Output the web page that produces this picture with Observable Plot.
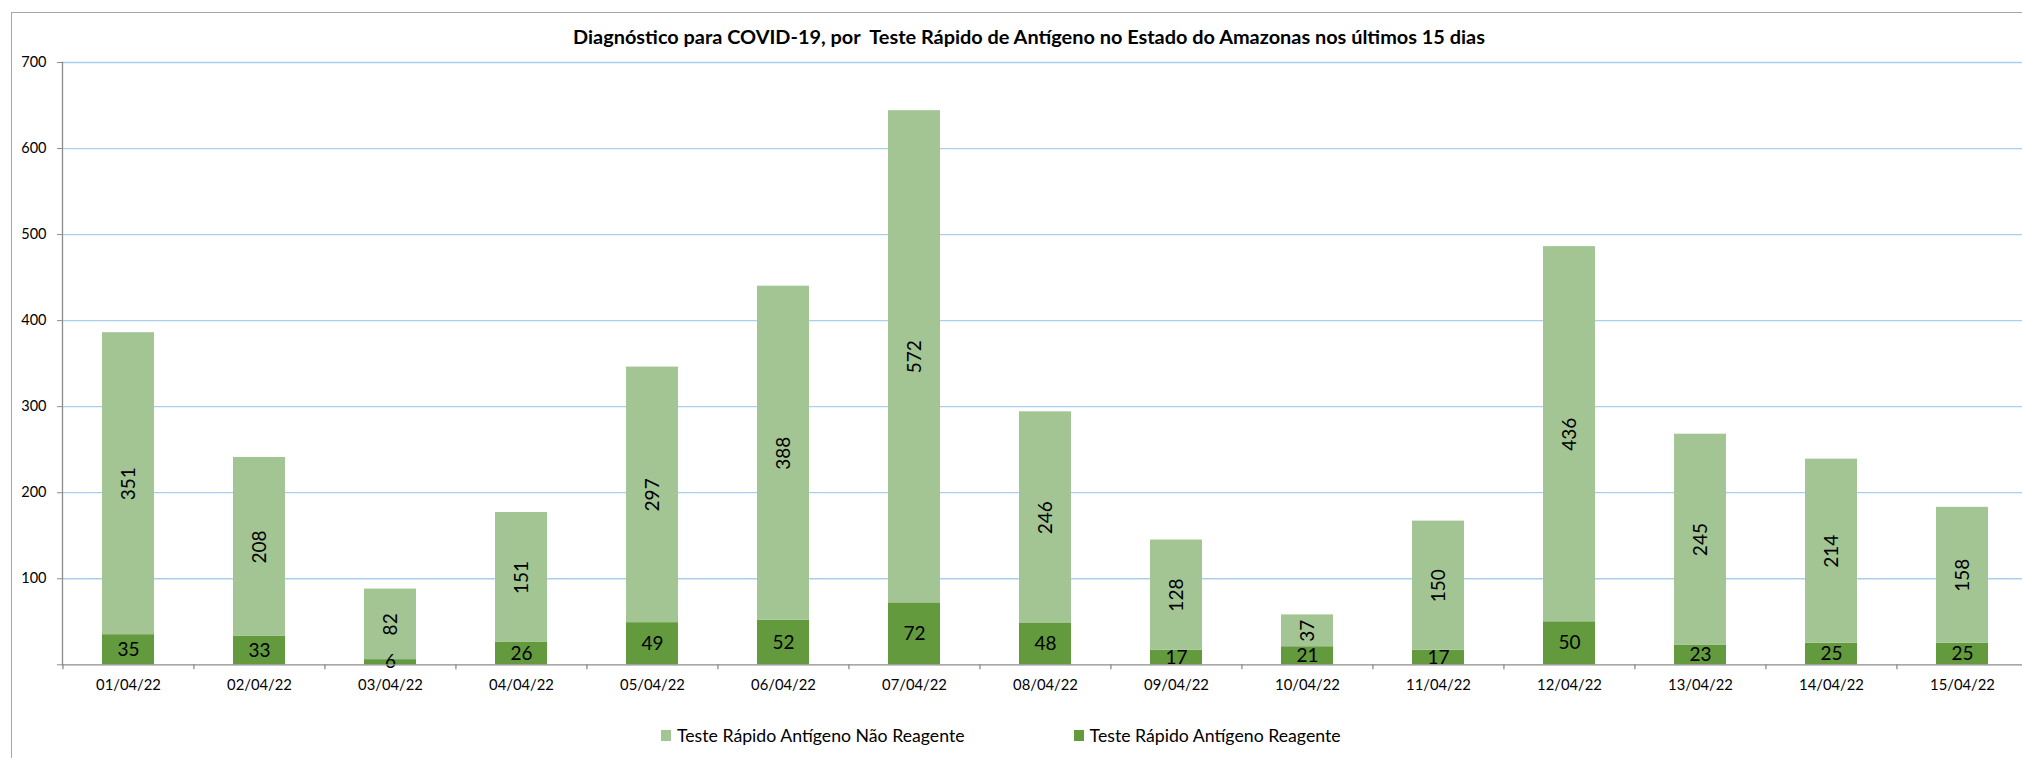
<!DOCTYPE html>
<html>
<head>
<meta charset="utf-8">
<script src="https://cdn.jsdelivr.net/npm/d3@7"></script>
<script src="https://cdn.jsdelivr.net/npm/@observablehq/plot@0.6"></script>
<style>
  html, body { margin: 0; padding: 0; overflow: hidden; background: #fff; width: 2022px; height: 758px; }
  #wrap { position: relative; width: 2022px; height: 758px; overflow: hidden; font-family: Lato, "Noto Sans", sans-serif; }
  #border { position: absolute; left: 11px; top: 12px; width: 2200px; height: 900px; border-left: 1.5px solid #a6a6a6; border-top: 1.5px solid #a6a6a6; }
  #title { position: absolute; top: 24px; left: 1029px; transform: translateX(-50%); white-space: pre; font-weight: bold; font-size: 19.9px; color: #000; }
  #chart { position: absolute; left: 0; top: 50px; width: 2040px; }
  #chart svg { max-width: none !important; }
  #legend { position: absolute; top: 725px; left: 661px; display: flex; align-items: center; font-size: 17.7px; color: #000; white-space: nowrap; }
  .sw { display: inline-block; width: 10px; height: 11px; margin-right: 6px; }
</style>
</head>
<body>
<div id="wrap">
  <div id="border"></div>
  <div id="title"></div>
  <div id="chart"></div>
  <div id="legend"></div>
</div>
<script>
const title = "Diagnóstico para COVID-19, por  Teste Rápido de Antígeno no Estado do Amazonas nos últimos 15 dias";
const dates = ["01/04/22","02/04/22","03/04/22","04/04/22","05/04/22","06/04/22","07/04/22","08/04/22","09/04/22","10/04/22","11/04/22","12/04/22","13/04/22","14/04/22","15/04/22"];
const reagente = [35,33,6,26,49,52,72,48,17,21,17,50,23,25,25];
const naoReagente = [351,208,82,151,297,388,572,246,128,37,150,436,245,214,158];
const seriesNames = ["Teste Rápido Antígeno Não Reagente", "Teste Rápido Antígeno Reagente"];
const seriesColors = ["#a3c593", "#629a3d"];
const yTicks = [0,100,200,300,400,500,600,700];

document.getElementById("title").textContent = title;

// stacked table: Reagente at bottom, Não Reagente on top
const rows = [];
dates.forEach((d, i) => {
  const r = reagente[i], n = naoReagente[i];
  rows.push({date: d, series: seriesNames[1], value: r, y1: 0, y2: r, mid: r / 2});
  rows.push({date: d, series: seriesNames[0], value: n, y1: r, y2: r + n, mid: r + n / 2});
});
const lightRows = rows.filter(d => d.series === seriesNames[0]);
const darkRows = rows.filter(d => d.series === seriesNames[1]);

const W = 2040, ML = 62, MR = 11, MT = 12, H = 660, MB = 45.7;
const step = (W - ML - MR) / dates.length;

const plot = Plot.plot({
  width: W,
  height: H,
  marginLeft: ML,
  marginRight: MR,
  marginTop: MT,
  marginBottom: MB,
  style: {fontFamily: "Lato, 'Noto Sans', sans-serif", background: "transparent", overflow: "visible", maxWidth: "none"},
  x: {domain: dates, paddingInner: 0.6, paddingOuter: 0.3, align: 0.5, label: null},
  y: {domain: [0, 700], label: null},
  color: {domain: seriesNames, range: seriesColors},
  marks: [
    Plot.ruleY(yTicks.filter(t => t > 0), {stroke: "#a9cff0", strokeWidth: 1.3}),
    Plot.barY(rows, {x: "date", y1: "y1", y2: "y2", fill: "series"}),
    Plot.text(lightRows, {x: "date", y: "mid", text: d => String(d.value), rotate: -90, fontSize: 19, fill: "#000"}),
    Plot.text(darkRows, {x: "date", y: "mid", text: d => String(d.value), fontSize: 19, fill: "#000"}),
    Plot.ruleY([0], {stroke: "#8c8c8c", strokeWidth: 1.3}),
    Plot.ruleX(dates, {x: d => d, y1: 0, y2: 0, insetTop: 5, dx: -step / 2, stroke: "#8c8c8c", strokeWidth: 1.3}),
    Plot.frame({anchor: "left", stroke: "#8c8c8c", strokeWidth: 1.3}),
    Plot.axisY({ticks: yTicks, tickSize: 5, tickPadding: 11, tickFormat: d => d === 0 ? "" : String(d), fontSize: 14.5, stroke: "#8c8c8c", fill: "#000", label: null}),
    Plot.axisX({tickSize: 0, tickPadding: 15, fontSize: 14.8, fill: "#000", label: null})
  ]
});
plot.style.maxWidth = "none";
document.getElementById("chart").appendChild(plot);

const legend = document.getElementById("legend");
seriesNames.forEach((name, i) => {
  const item = document.createElement("span");
  item.style.display = "inline-flex";
  item.style.alignItems = "center";
  item.style.marginRight = i === 0 ? "109px" : "0";
  const sw = document.createElement("span");
  sw.className = "sw";
  sw.style.background = seriesColors[i];
  item.appendChild(sw);
  item.appendChild(document.createTextNode(name));
  legend.appendChild(item);
});
</script>
</body>
</html>
